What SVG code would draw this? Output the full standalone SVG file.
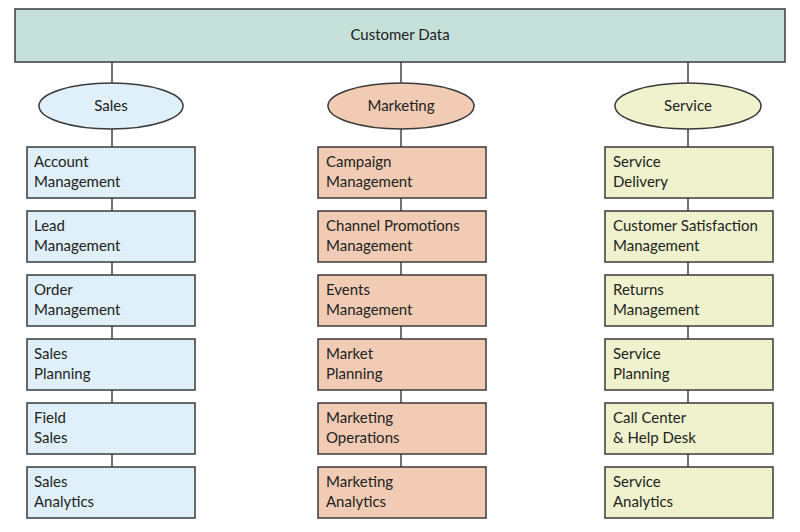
<svg xmlns="http://www.w3.org/2000/svg" width="800" height="532" viewBox="0 0 800 532">
<style>
text{font-family:Lato,"Open Sans","Liberation Sans",sans-serif;font-size:15px;fill:#222}
.c{text-anchor:middle}
.box{stroke:#3a3a3a;stroke-width:1.5}
.ln{stroke:#444;stroke-width:1.5;fill:none}
.s{fill:#dff0fb}.m{fill:#f1cbb4}.v{fill:#eff2cd}
</style>
<rect width="800" height="532" fill="#fff"/>
<g id="connectors">
<line class="ln" x1="112" y1="62" x2="112" y2="467"/>
<line class="ln" x1="401" y1="62" x2="401" y2="467"/>
<line class="ln" x1="688" y1="62" x2="688" y2="467"/>
</g>
<g id="customer-data"><rect class="box" x="15" y="9" width="770" height="53" fill="#c6e1da"/><text class="c" x="400" y="40">Customer Data</text></g>
<g id="sales"><ellipse class="box s" cx="111" cy="106" rx="72" ry="23"/><text class="c" x="111" y="111">Sales</text></g>
<g id="marketing"><ellipse class="box m" cx="401" cy="106" rx="73" ry="23"/><text class="c" x="401" y="111">Marketing</text></g>
<g id="service"><ellipse class="box v" cx="688" cy="106" rx="73" ry="23"/><text class="c" x="688" y="111">Service</text></g>

<g id="s1"><rect class="box s" x="27" y="147" width="168" height="51"/><text x="34" y="167">Account</text><text x="34" y="187">Management</text></g>
<g id="s2"><rect class="box s" x="27" y="211" width="168" height="51"/><text x="34" y="231">Lead</text><text x="34" y="251">Management</text></g>
<g id="s3"><rect class="box s" x="27" y="275" width="168" height="51"/><text x="34" y="295">Order</text><text x="34" y="315">Management</text></g>
<g id="s4"><rect class="box s" x="27" y="339" width="168" height="51"/><text x="34" y="359">Sales</text><text x="34" y="379">Planning</text></g>
<g id="s5"><rect class="box s" x="27" y="403" width="168" height="51"/><text x="34" y="423">Field</text><text x="34" y="443">Sales</text></g>
<g id="s6"><rect class="box s" x="27" y="467" width="168" height="51"/><text x="34" y="487">Sales</text><text x="34" y="507">Analytics</text></g>

<g id="m1"><rect class="box m" x="318" y="147" width="168" height="51"/><text x="326" y="167">Campaign</text><text x="326" y="187">Management</text></g>
<g id="m2"><rect class="box m" x="318" y="211" width="168" height="51"/><text x="326" y="231">Channel Promotions</text><text x="326" y="251">Management</text></g>
<g id="m3"><rect class="box m" x="318" y="275" width="168" height="51"/><text x="326" y="295">Events</text><text x="326" y="315">Management</text></g>
<g id="m4"><rect class="box m" x="318" y="339" width="168" height="51"/><text x="326" y="359">Market</text><text x="326" y="379">Planning</text></g>
<g id="m5"><rect class="box m" x="318" y="403" width="168" height="51"/><text x="326" y="423">Marketing</text><text x="326" y="443">Operations</text></g>
<g id="m6"><rect class="box m" x="318" y="467" width="168" height="51"/><text x="326" y="487">Marketing</text><text x="326" y="507">Analytics</text></g>

<g id="v1"><rect class="box v" x="605" y="147" width="168" height="51"/><text x="613" y="167">Service</text><text x="613" y="187">Delivery</text></g>
<g id="v2"><rect class="box v" x="605" y="211" width="168" height="51"/><text x="613" y="231">Customer Satisfaction</text><text x="613" y="251">Management</text></g>
<g id="v3"><rect class="box v" x="605" y="275" width="168" height="51"/><text x="613" y="295">Returns</text><text x="613" y="315">Management</text></g>
<g id="v4"><rect class="box v" x="605" y="339" width="168" height="51"/><text x="613" y="359">Service</text><text x="613" y="379">Planning</text></g>
<g id="v5"><rect class="box v" x="605" y="403" width="168" height="51"/><text x="613" y="423">Call Center</text><text x="613" y="443">&amp; Help Desk</text></g>
<g id="v6"><rect class="box v" x="605" y="467" width="168" height="51"/><text x="613" y="487">Service</text><text x="613" y="507">Analytics</text></g>
</svg>
